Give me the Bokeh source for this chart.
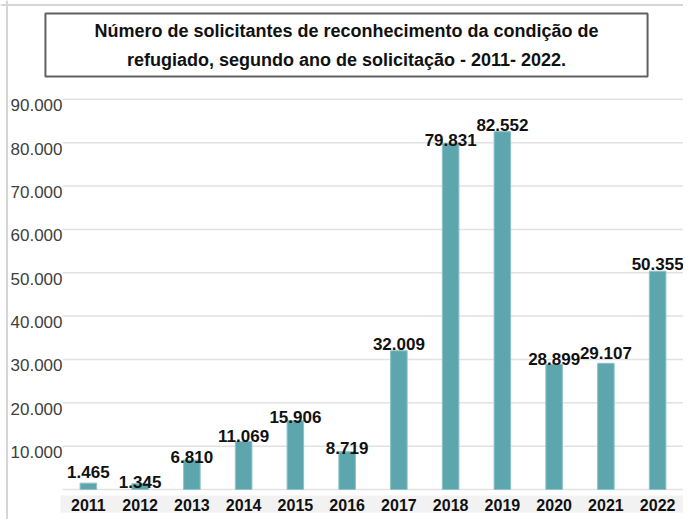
from bokeh.plotting import figure
from bokeh.models import (Range1d, BoxAnnotation, ColumnDataSource, Label, Span)
from bokeh.core.properties import value
from bokeh.embed import file_html
from bokeh.resources import INLINE

# ---------------- data ----------------
years = ["2011", "2012", "2013", "2014", "2015", "2016",
         "2017", "2018", "2019", "2020", "2021", "2022"]
requests = [1465, 1345, 6810, 11069, 15906, 8719,
            32009, 79831, 82552, 28899, 29107, 50355]
value_labels = ["1.465", "1.345", "6.810", "11.069", "15.906", "8.719",
                "32.009", "79.831", "82.552", "28.899", "29.107", "50.355"]
y_ticks = [0, 10000, 20000, 30000, 40000, 50000, 60000, 70000, 80000, 90000]
y_tick_labels = ["", "10.000", "20.000", "30.000", "40.000", "50.000",
                 "60.000", "70.000", "80.000", "90.000"]

# label gap above each bar (style, pixels)
label_gap_px = [11, 2, 3, 6, 4, 3.5, 6.5, 3, 6.5, 5, 10, 7.5]

FONT = "Liberation Sans"
BAR = "#5ea6ad"

# ---------------- geometry (canvas pixels) ----------------
W, H = 683, 519
PLOT_LEFT = 62               # left edge of the bar area
BASELINE_PX = 489            # pixel row of value 0
PX_PER_UNIT = 422.0 / 97348.0
CAT_PX = (W - PLOT_LEFT) / len(years)

X_START = -PLOT_LEFT / CAT_PX
X_END = len(years)
Y_START = -(H - BASELINE_PX) / PX_PER_UNIT
Y_END = BASELINE_PX / PX_PER_UNIT


def px_x(px):
    return (px - PLOT_LEFT) / CAT_PX


def px_y(py):
    return (BASELINE_PX - py) / PX_PER_UNIT


title_text = ("Número de solicitantes de reconhecimento da condição de\n"
              "refugiado, segundo ano de solicitação - 2011- 2022.")

p = figure(width=W, height=H,
           x_range=Range1d(X_START, X_END),
           y_range=Range1d(Y_START, Y_END),
           x_axis_location=None, y_axis_location=None,
           output_backend="svg", toolbar_location=None,
           min_border=0,
           background_fill_color="white", border_fill_color="white",
           outline_line_color=None)

p.xgrid.visible = False
p.ygrid.visible = False

# category positions (centre of each slot)
xpos = [i + 0.5 for i in range(len(years))]

# gray band behind the year labels
band = BoxAnnotation(left=px_x(60), top=px_y(495), bottom=px_y(512),
                     fill_color="#f2f2f2", fill_alpha=1.0,
                     line_color=None, level="underlay")
p.add_layout(band)

# outer frame lines (top and left)
p.add_layout(Span(location=px_y(4.5), dimension="width",
                  line_color="#d6d6d6", line_width=2))
p.add_layout(Span(location=px_x(6.5), dimension="height",
                  line_color="#d6d6d6", line_width=2))

# horizontal grid lines
p.segment(x0=[0] * len(y_ticks), x1=[X_END] * len(y_ticks),
          y0=y_ticks, y1=y_ticks, line_color="#e2e2e2", line_width=1.5)

# y tick labels (sit a little below their grid line)
p.text(x=[0] * (len(y_ticks) - 1), y=y_ticks[1:], text=y_tick_labels[1:],
       x_offset=0, y_offset=6,
       text_align="right", text_baseline="middle",
       text_font=value(FONT), text_font_size="17px", text_color="#404040")

src = ColumnDataSource(dict(x=xpos, year=years, val=requests, lab=value_labels,
                            yoff=[-g for g in label_gap_px]))

p.vbar(x="x", top="val", bottom=0, width=0.32, source=src,
       fill_color=BAR, line_color="#8cc3c8", line_width=1)

p.text(x="x", y="val", text="lab", y_offset="yoff", source=src,
       text_align="center", text_baseline="alphabetic",
       text_font=value(FONT), text_font_size="17px", text_font_style="bold",
       text_color="#111111")

p.text(x="x", y=px_y(504), text="year", source=src,
       text_align="center", text_baseline="middle",
       text_font=value(FONT), text_font_size="16px", text_font_style="bold",
       text_color="#111111")

# boxed title, centred over the whole chart
title = Label(x=px_x(346), y=px_y(44.5),
              text=title_text, text_align="center", text_baseline="middle",
              text_font=FONT, text_font_size="18px", text_font_style="bold",
              text_color="#111111", text_line_height=1.45,
              border_line_color="#606060", border_line_width=2,
              background_fill_color="white",
              padding=dict(left=49, right=49, top=7, bottom=7))
p.add_layout(title)

open("out.html", "w").write(file_html(p, INLINE))
